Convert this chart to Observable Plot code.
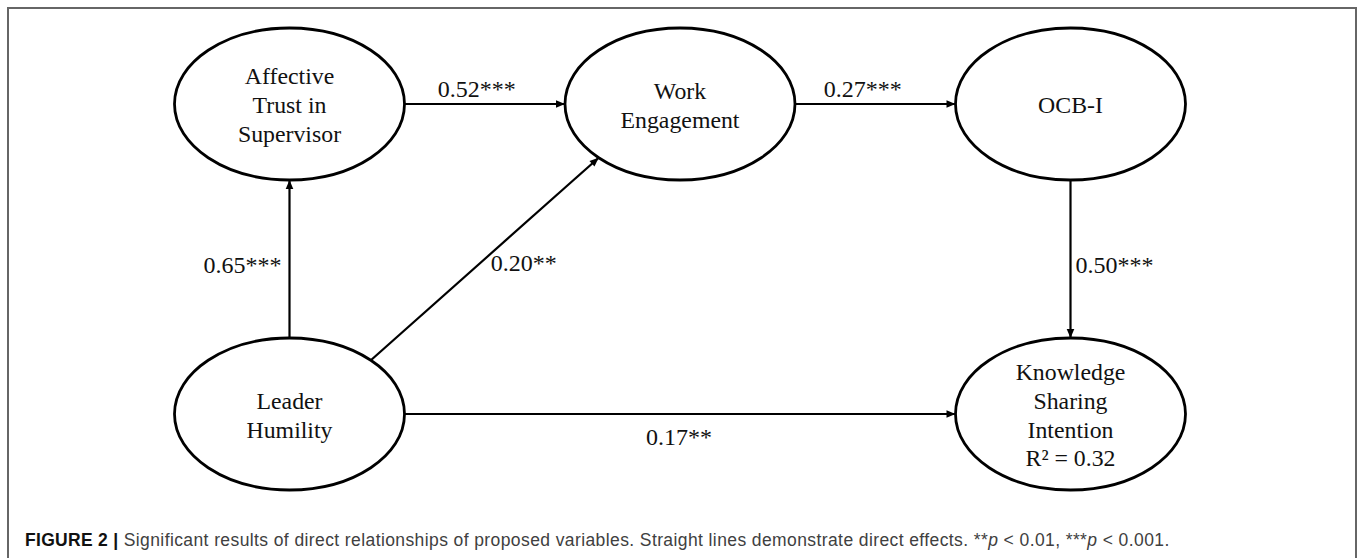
<!DOCTYPE html>
<html><head><meta charset="utf-8">
<script src="https://cdn.jsdelivr.net/npm/d3@7"></script>
<script src="https://cdn.jsdelivr.net/npm/@observablehq/plot@0.6"></script>
<style>
html,body{margin:0;padding:0;background:#fff;overflow:hidden;}
#wrap{position:relative;width:1357px;height:558px;overflow:hidden;}
#frame{position:absolute;left:7px;top:7px;width:1350px;height:620px;border:2px solid #666;box-sizing:border-box;}
#chart{position:absolute;left:0;top:0;}
#cap{position:absolute;left:25px;top:531.5px;font-family:"Liberation Sans",Arial,sans-serif;font-size:17.5px;letter-spacing:0.4px;line-height:1;color:#404040;white-space:nowrap;}
#cap b{color:#111;letter-spacing:0.3px;}
</style></head>
<body>
<div id="wrap">
  <div id="frame"></div>
  <div id="chart"></div>
  <div id="cap"><b>FIGURE 2 |</b> Significant results of direct relationships of proposed variables. Straight lines demonstrate direct effects. **<i>p</i> &lt; 0.01, ***<i>p</i> &lt; 0.001.</div>
</div>
<script>
// ---- data ----
const nodeNames = ["Affective\nTrust in\nSupervisor", "Work\nEngagement", "OCB-I", "Leader\nHumility", "Knowledge\nSharing\nIntention\nR² = 0.32"];
const nodeCol = [0, 1, 2, 0, 2];
const nodeRow = [0, 0, 0, 1, 1];
const edgeFrom = [0, 1, 3, 3, 2, 3];
const edgeTo   = [1, 2, 0, 1, 4, 4];
const coefficients = [0.52, 0.27, 0.65, 0.20, 0.50, 0.17];
const significance = ["***", "***", "***", "**", "***", "**"];

// ---- layout / style ----
const X = [289, 1070], Y = [103.5, 413.5];
const RX = 115, RY = 76;
const pxCol = (X[1] - X[0]) / 2, pxRow = (Y[1] - Y[0]);
const edgeAngles = [[0, 180], [0, 180], [-90, 90], [-45, 135], [90, -90], [0, 180]];
const labelOffset = [[-8, -15], [-12.5, -15], [-47, 6.5], [39, 4], [44, 6], [-1, 23]];
const serif = "'Liberation Serif','Times New Roman',serif";

function boundary(i, deg) {
  const a = deg * Math.PI / 180;
  return {x: nodeCol[i] + RX * Math.cos(a) / pxCol, y: nodeRow[i] + RY * Math.sin(a) / pxRow};
}

const nodes = nodeNames.map((name, i) => ({name, col: nodeCol[i], row: nodeRow[i]}));
const edges = edgeFrom.map((f, i) => {
  const p1 = boundary(f, edgeAngles[i][0]);
  const p2 = boundary(edgeTo[i], edgeAngles[i][1]);
  const ang = Math.atan2((p2.y - p1.y) * pxRow, (p2.x - p1.x) * pxCol) * 180 / Math.PI;
  const mx = (p1.x + p2.x) / 2, my = (p1.y + p2.y) / 2;
  return {
    x1: p1.x, y1: p1.y, x2: p2.x, y2: p2.y, ang,
    lx: mx + labelOffset[i][0] / pxCol, ly: my + labelOffset[i][1] / pxRow,
    label: d3.format(".2f")(coefficients[i]) + significance[i]
  };
});

const k = 0.5522847498;
const ellipseSymbol = {draw(ctx) {
  const rx = RX, ry = RY;
  ctx.moveTo(rx, 0);
  ctx.bezierCurveTo(rx, k * ry, k * rx, ry, 0, ry);
  ctx.bezierCurveTo(-k * rx, ry, -rx, k * ry, -rx, 0);
  ctx.bezierCurveTo(-rx, -k * ry, -k * rx, -ry, 0, -ry);
  ctx.bezierCurveTo(k * rx, -ry, rx, -k * ry, rx, 0);
  ctx.closePath();
}};
const headSymbol = {draw(ctx) {
  ctx.moveTo(0, 0); ctx.lineTo(-9, -3.8); ctx.lineTo(-9, 3.8); ctx.closePath();
}};

const chart = Plot.plot({
  width: 1357, height: 500, margin: 0,
  x: {domain: [0, 2], range: X, axis: null},
  y: {domain: [0, 1], range: Y, axis: null},
  style: {background: "transparent", overflow: "visible"},
  marks: [
    Plot.link(edges, {x1: "x1", y1: "y1", x2: "x2", y2: "y2", stroke: "#000", strokeWidth: 2.2}),
    Plot.dot(nodes, {x: "col", y: "row", r: RX, symbol: ellipseSymbol, fill: "none", stroke: "#000", strokeWidth: 2.8}),
    Plot.dot(edges, {x: "x2", y: "y2", r: 5, symbol: headSymbol, rotate: "ang", fill: "#000", stroke: "none"}),
    Plot.text(nodes, {x: "col", y: "row", text: "name", fontFamily: serif, fontSize: 23.8, lineHeight: 1.21, fill: "#111"}),
    Plot.text(edges, {x: "lx", y: "ly", text: "label", fontFamily: serif, fontSize: 24, fill: "#111"})
  ]
});
document.getElementById("chart").appendChild(chart);
</script>
</body></html>
